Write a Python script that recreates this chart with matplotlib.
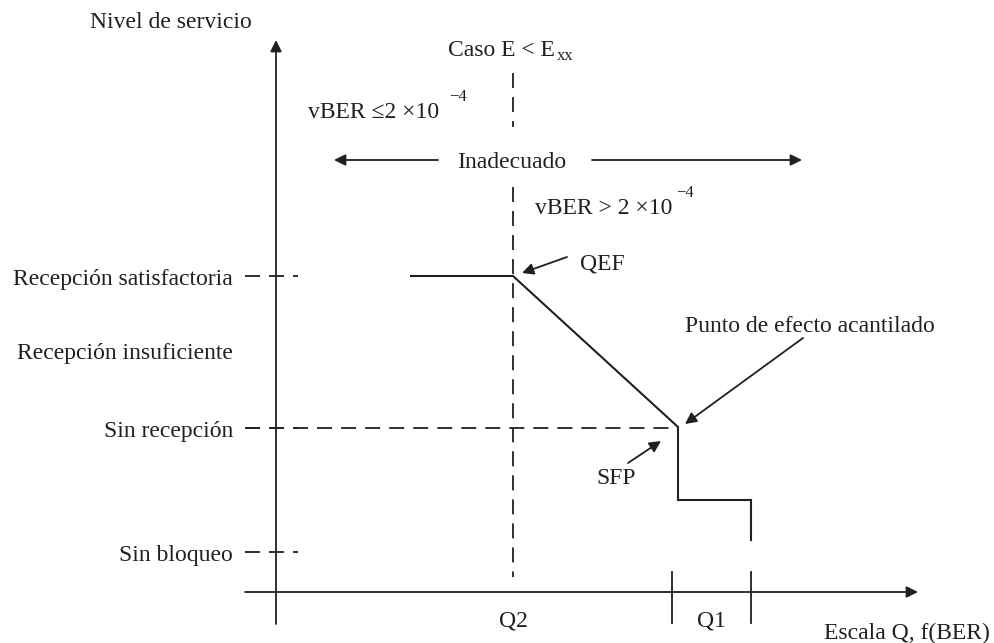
import matplotlib.pyplot as plt

plt.rcParams['font.family'] = ['Liberation Serif', 'DejaVu Serif']
plt.rcParams['font.size'] = 17
plt.rcParams['lines.scale_dashes'] = False

# Service levels (label, y position in pixels)
level_names = ['Recepción satisfactoria', 'Recepción insuficiente', 'Sin recepción', 'Sin bloqueo']
level_y = [276, 351, 428, 552]
level_marked = [True, False, True, True]

# Service-level curve (x, y in pixels)
curve_x = [411, 513, 678, 678, 751, 751]
curve_y = [276, 276, 427, 500, 500, 540]

# Q scale marks
q_ticks = [672, 751]
q_labels = ['Q2', 'Q1']
q_label_x = [513, 711]
qef_x = 513

ink = '#231f20'
dash = (10.8, 6.5)  # ~15 px on, 9 px off
dy = 3  # text baseline nudge

fig = plt.figure(figsize=(9.95, 6.43), dpi=100)
ax = fig.add_axes([0, 0, 1, 1])
ax.set_xlim(0, 995)
ax.set_ylim(643, 0)
ax.axis('off')

arrow = dict(arrowstyle='-|>', color=ink, lw=1.3, mutation_scale=17, shrinkA=0, shrinkB=0)

# axes with arrows
ax.annotate('', xy=(276, 40), xytext=(276, 624), arrowprops=arrow)
ax.annotate('', xy=(918, 592), xytext=(245, 592), arrowprops=arrow)
ax.text(252, 20 + dy, 'Nivel de servicio', ha='right', va='center', color=ink)
ax.text(990, 630 + dy, 'Escala Q, f(BER)', ha='right', va='center', color=ink)

# level labels and dashes
for name, y, marked in zip(level_names, level_y, level_marked):
    ax.text(233, y + dy, name, ha='right', va='center', color=ink)
    if marked:
        ax.plot([245, 298], [y, y], color=ink, lw=1.3, dashes=dash)
ax.plot([245, 670], [level_y[2], level_y[2]], color=ink, lw=1.3, dashes=dash)

# vertical dashed line at QEF
ax.plot([qef_x, qef_x], [73, 127], color=ink, lw=1.3, dashes=dash)
ax.plot([qef_x, qef_x], [187, 577], color=ink, lw=1.3, dashes=dash)

# curve
ax.plot(curve_x, curve_y, color=ink, lw=1.5, solid_joinstyle='miter')

# ticks on Q axis
for tx in q_ticks:
    ax.plot([tx, tx], [572, 623], color=ink, lw=1.3)
for lx, lab in zip(q_label_x, q_labels):
    ax.text(lx, 618 + dy, lab, ha='center', va='center', color=ink)

# top annotations
ax.text(448, 48 + dy, 'Caso E < E', ha='left', va='center', color=ink)
ax.text(557, 56, 'xx', ha='left', va='center', color=ink, fontsize=12)
ax.text(308, 109 + dy, 'vBER ≤2 ×10', ha='left', va='center', color=ink)
ax.text(449, 97, '−4', ha='left', va='center', color=ink, fontsize=12)
ax.text(535, 206 + dy, 'vBER > 2 ×10', ha='left', va='center', color=ink)
ax.text(676, 193, '−4', ha='left', va='center', color=ink, fontsize=12)

# Inadecuado with arrows
ax.text(512, 160 + dy, 'Inadecuado', ha='center', va='center', color=ink)
ax.annotate('', xy=(334, 160), xytext=(438, 160), arrowprops=arrow)
ax.annotate('', xy=(802, 160), xytext=(592, 160), arrowprops=arrow)

# point labels
ax.text(580, 261 + dy, 'QEF', ha='left', va='center', color=ink)
ax.annotate('', xy=(522, 273), xytext=(567, 257), arrowprops=arrow)
ax.text(810, 323 + dy, 'Punto de efecto acantilado', ha='center', va='center', color=ink)
ax.annotate('', xy=(685, 424), xytext=(803, 338), arrowprops=arrow)
ax.text(596, 476 + dy, 'SFP', ha='left', va='center', color=ink)
ax.annotate('', xy=(661, 441), xytext=(628, 463), arrowprops=arrow)

plt.savefig('out.png', dpi=100, facecolor='white')
